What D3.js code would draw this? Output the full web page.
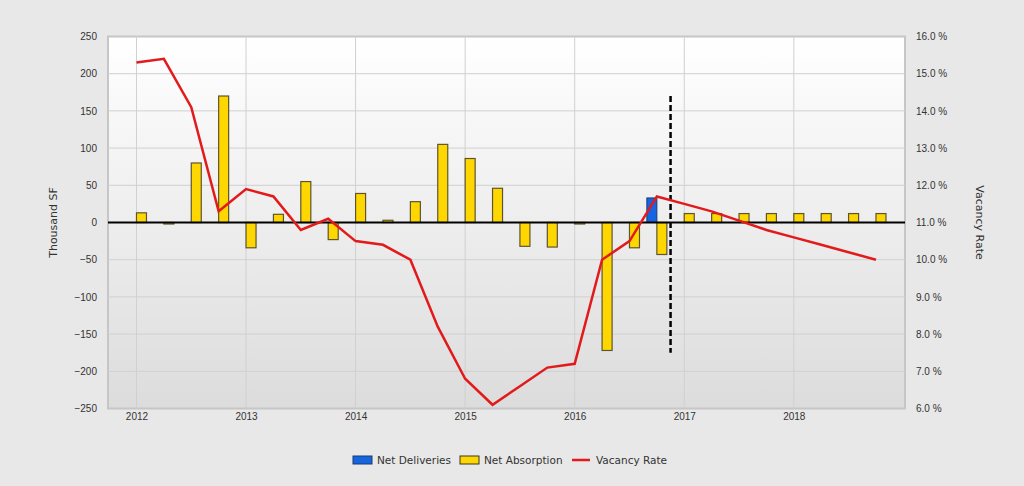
<!DOCTYPE html>
<html>
<head>
<meta charset="utf-8">
<script src="https://cdn.jsdelivr.net/npm/d3@7/dist/d3.min.js"></script>
<style>
  html, body { margin: 0; padding: 0; background: #e8e8e8; }
  svg { display: block; font-family: "DejaVu Sans", Verdana, sans-serif; }
</style>
</head>
<body>
<svg id="chart" width="1024" height="486"></svg>
<script>
// ---- data ----
const quarters = [
  "2012 Q1","2012 Q2","2012 Q3","2012 Q4",
  "2013 Q1","2013 Q2","2013 Q3","2013 Q4",
  "2014 Q1","2014 Q2","2014 Q3","2014 Q4",
  "2015 Q1","2015 Q2","2015 Q3","2015 Q4",
  "2016 Q1","2016 Q2","2016 Q3","2016 Q4",
  "2017 Q1","2017 Q2","2017 Q3","2017 Q4",
  "2018 Q1","2018 Q2","2018 Q3","2018 Q4"
];
const netDeliveries = [
  0,0,0,0, 0,0,0,0, 0,0,0,0, 0,0,0,0, 0,0,0,33, 0,0,0,0, 0,0,0,0
];
const netAbsorption = [
  13,-2,80,170, -34,11,55,-23, 39,3,28,105, 86,46,-32,-33, -1,-172,-34,-43, 12,12,12,12, 12,12,12,12
];
const vacancyRate = [
  15.3,15.4,14.1,11.3, 11.9,11.7,10.8,11.1, 10.5,10.4,10.0,8.2, 6.8,6.1,6.6,7.1, 7.2,10.0,10.5,11.7, 11.5,11.3,11.05,10.8, 10.6,10.4,10.2,10.0
];
const yearTicks = [2012, 2013, 2014, 2015, 2016, 2017, 2018];
const leftTicks = [250,200,150,100,50,0,-50,-100,-150,-200,-250];
const rightTicks = [16,15,14,13,12,11,10,9,8,7,6];
const forecastStart = 2016.875;  // dashed separator between history & forecast
const forecastRange = [170, -175];

// ---- layout ----
const svg = d3.select("#chart");
const plot = { left: 108, right: 905, top: 36.5, bottom: 408.5 };

const x = d3.scaleLinear().domain([2011.74, 2019.015]).range([plot.left, plot.right]);
const yL = d3.scaleLinear().domain([-250, 250]).range([plot.bottom, plot.top]);
const yR = d3.scaleLinear().domain([6, 16]).range([plot.bottom, plot.top]);

const qTime = q => { const [yy, qq] = q.split(" Q"); return +yy + (+qq - 1) / 4; };
const bw = 10;

// background gradient
const defs = svg.append("defs");
const grad = defs.append("linearGradient").attr("id", "bg").attr("x1", 0).attr("y1", 0).attr("x2", 0).attr("y2", 1);
grad.append("stop").attr("offset", "0%").attr("stop-color", "#ffffff");
grad.append("stop").attr("offset", "100%").attr("stop-color", "#dcdcdc");

svg.append("rect")
  .attr("x", plot.left).attr("y", plot.top)
  .attr("width", plot.right - plot.left).attr("height", plot.bottom - plot.top)
  .attr("fill", "url(#bg)").attr("stroke", "#c6c6c6").attr("stroke-width", 2);

// gridlines
const grid = svg.append("g");
grid.selectAll(".hg").data(leftTicks.filter(d => d !== 250 && d !== -250)).enter().append("line")
  .attr("x1", plot.left).attr("x2", plot.right)
  .attr("y1", d => yL(d)).attr("y2", d => yL(d))
  .attr("stroke", "#d0d0d0").attr("stroke-width", 1);
grid.selectAll(".vg").data(yearTicks).enter().append("line")
  .attr("y1", plot.top).attr("y2", plot.bottom)
  .attr("x1", d => x(d)).attr("x2", d => x(d))
  .attr("stroke", "#d0d0d0").attr("stroke-width", 1);

// axes
const fontSize = 10;
const axL = svg.append("g").attr("transform", `translate(${plot.left - 11},0)`)
  .call(d3.axisLeft(yL).tickValues(leftTicks).tickSize(0).tickPadding(0));
const axR = svg.append("g").attr("transform", `translate(${plot.right + 11},0)`)
  .call(d3.axisRight(yR).tickValues(rightTicks).tickSize(0).tickPadding(0).tickFormat(d => d3.format(".1f")(d) + " %"));
const axB = svg.append("g").attr("transform", `translate(0,${plot.bottom + 4})`)
  .call(d3.axisBottom(x).tickValues(yearTicks).tickSize(0).tickPadding(0).tickFormat(d3.format("d")));
[axL, axR, axB].forEach(a => {
  a.select(".domain").remove();
  a.selectAll("text").attr("fill", "#333").style("font-size", fontSize + "px");
});

// axis titles
svg.append("text").attr("transform", `translate(57,${yL(0)}) rotate(-90)`)
  .attr("text-anchor", "middle").attr("fill", "#333").style("font-size", "11px").text("Thousand SF");
svg.append("text").attr("transform", `translate(976,${yL(0)}) rotate(90)`)
  .attr("text-anchor", "middle").attr("fill", "#333").style("font-size", "11px").text("Vacancy Rate");

// bars
const data = quarters.map((q, i) => ({ t: qTime(q), del: netDeliveries[i], abs: netAbsorption[i], vac: vacancyRate[i] }));

svg.append("g").selectAll("rect").data(data.filter(d => d.del !== 0)).enter().append("rect")
  .attr("x", d => x(d.t) - bw).attr("width", bw)
  .attr("y", d => yL(Math.max(0, d.del))).attr("height", d => Math.abs(yL(d.del) - yL(0)))
  .attr("fill", "#1565e0").attr("stroke", "#1b3a6e").attr("stroke-width", 1);

svg.append("g").selectAll("rect").data(data).enter().append("rect")
  .attr("x", d => x(d.t)).attr("width", bw)
  .attr("y", d => yL(Math.max(0, d.abs))).attr("height", d => Math.max(1.5, Math.abs(yL(d.abs) - yL(0))))
  .attr("fill", "#ffd700").attr("stroke", "#5e5430").attr("stroke-width", 1.2);

// zero line
svg.append("line").attr("x1", plot.left).attr("x2", plot.right)
  .attr("y1", yL(0)).attr("y2", yL(0)).attr("stroke", "#000").attr("stroke-width", 2);

// forecast separator
svg.append("line").attr("x1", x(forecastStart)).attr("x2", x(forecastStart))
  .attr("y1", yL(forecastRange[0])).attr("y2", yL(forecastRange[1]))
  .attr("stroke", "#000").attr("stroke-width", 2.5).attr("stroke-dasharray", "6,3");

// vacancy line
svg.append("path").datum(data)
  .attr("d", d3.line().x(d => x(d.t)).y(d => yR(d.vac)))
  .attr("fill", "none").attr("stroke", "#e31a1c").attr("stroke-width", 2.5).attr("stroke-linejoin", "miter");

// legend
const lg = svg.append("g").style("font-size", "10.5px").attr("fill", "#333");
const legendY = 460;
lg.append("rect").attr("x", 353).attr("y", legendY - 4).attr("width", 19).attr("height", 8)
  .attr("fill", "#1565e0").attr("stroke", "#1b3a6e");
lg.append("text").attr("x", 377).attr("y", legendY + 4).text("Net Deliveries");
lg.append("rect").attr("x", 460).attr("y", legendY - 4).attr("width", 19).attr("height", 8)
  .attr("fill", "#ffd700").attr("stroke", "#3a3520");
lg.append("text").attr("x", 484).attr("y", legendY + 4).text("Net Absorption");
lg.append("line").attr("x1", 572).attr("x2", 590).attr("y1", legendY).attr("y2", legendY)
  .attr("stroke", "#e31a1c").attr("stroke-width", 2.5);
lg.append("text").attr("x", 596).attr("y", legendY + 4).text("Vacancy Rate");
</script>
</body>
</html>
